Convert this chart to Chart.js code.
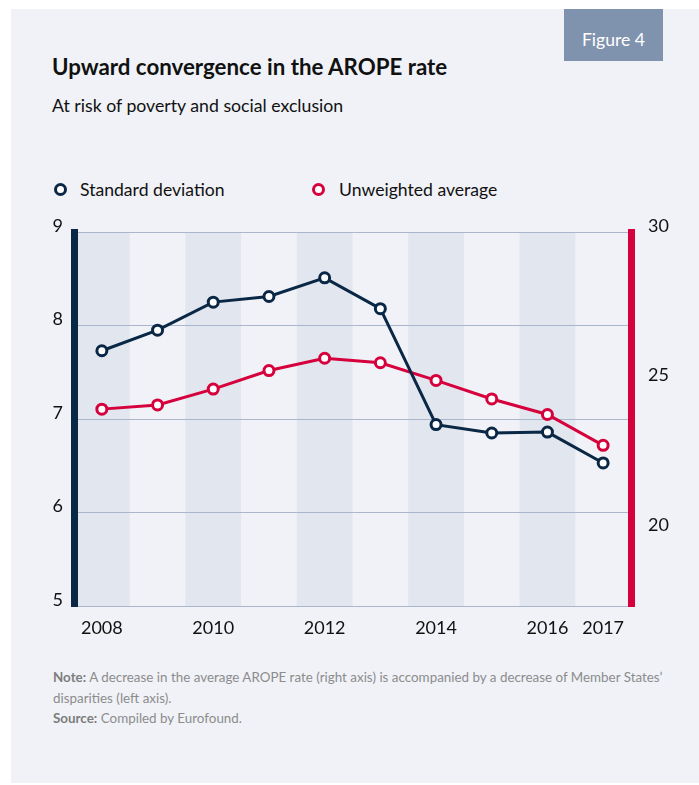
<!DOCTYPE html>
<html>
<head>
<meta charset="utf-8">
<script src="https://cdn.jsdelivr.net/npm/chart.js@4"></script>
<style>
  body { margin: 0; width: 699px; height: 785px; background: #fff; position: relative; font-family: Lato, sans-serif; overflow: hidden; }
  .card { position: absolute; left: 11px; top: 9px; width: 688px; height: 774px; background: #f0f2f7; }
  .fig { position: absolute; left: 564px; top: 9px; width: 99px; height: 52px; background: #8093ae; color: #fff; font-size: 17.6px; text-align: center; line-height: 22px; }
  .fig span { position: absolute; left: 0; right: 0; top: 20px; }
  .title { position: absolute; left: 52px; top: 54px; font-size: 22.3px; font-weight: bold; line-height: 26px; color: #111; }
  .sub { position: absolute; left: 52px; top: 95px; font-size: 17.7px; line-height: 22px; color: #111; }
  .legend { position: absolute; top: 179px; font-size: 17.6px; line-height: 22px; color: #111; }
  .legend i { position: absolute; top: 4px; width: 7px; height: 7px; border: 3px solid; border-radius: 50%; background: #fff; }
  .legend b { font-weight: normal; position: absolute; white-space: nowrap; }
  .note { position: absolute; left: 53px; top: 667px; font-size: 13.4px; line-height: 20.5px; color: #8c8c8c; white-space: nowrap; }
  .note strong { color: #7d7d7d; }
  canvas { position: absolute; left: 0; top: 200px; }
</style>
</head>
<body>
<div class="card"></div>
<div class="fig"><span>Figure 4</span></div>
<div class="title">Upward convergence in the AROPE rate</div>
<div class="sub">At risk of poverty and social exclusion</div>
<div class="legend" style="left:54px"><i style="border-color:#0a2746"></i><b style="left:26px">Standard deviation</b></div>
<div class="legend" style="left:312px"><i style="border-color:#d5003c"></i><b style="left:27px">Unweighted average</b></div>
<canvas id="chart" width="699" height="450"></canvas>
<div class="note"><strong>Note:</strong> A decrease in the average AROPE rate (right axis) is accompanied by a decrease of Member States’<br>disparities (left axis).<br><strong>Source:</strong> Compiled by Eurofound.</div>
<script>
const years = ['2008', '2009', '2010', '2011', '2012', '2013', '2014', '2015', '2016', '2017'];
const shownYears = ['2008', '2010', '2012', '2014', '2016', '2017'];
const shadedYears = ['2008', '2010', '2012', '2014', '2016'];
const stdDev = [7.73, 7.95, 8.25, 8.31, 8.51, 8.18, 6.94, 6.85, 6.86, 6.53];
const avgRate = [24.08, 24.22, 24.75, 25.37, 25.78, 25.63, 25.04, 24.42, 23.9, 22.87];
const leftTicks = [5, 6, 7, 8, 9];
const rightTicks = [20, 25, 30];

const navy = '#0a2746';
const red = '#d5003c';
const gridColor = '#a9b6cc';

Chart.defaults.font.family = 'Lato, sans-serif';
Chart.defaults.color = '#111';

// shaded column behind every other year
const stripes = {
  id: 'stripes',
  beforeDraw(chart) {
    const { ctx, chartArea, scales } = chart;
    const x = scales.x;
    const half = (x.getPixelForValue(1) - x.getPixelForValue(0)) / 2;
    ctx.save();
    ctx.fillStyle = '#e2e6ef';
    years.forEach((y, i) => {
      if (!shadedYears.includes(y)) return;
      const c = x.getPixelForValue(i);
      const l = Math.max(c - half, chartArea.left);
      const r = Math.min(c + half, chartArea.right);
      ctx.fillRect(l, chartArea.top, r - l, chartArea.bottom - chartArea.top);
    });
    ctx.restore();
  }
};

new Chart(document.getElementById('chart'), {
  type: 'line',
  data: {
    labels: years,
    datasets: [
      {
        label: 'Standard deviation',
        data: stdDev,
        yAxisID: 'y',
        borderColor: navy,
        backgroundColor: '#fff',
        borderWidth: 3,
        pointRadius: 5,
        pointBorderWidth: 3,
        pointBackgroundColor: '#fff',
        tension: 0
      },
      {
        label: 'Unweighted average',
        data: avgRate,
        yAxisID: 'y2',
        borderColor: red,
        backgroundColor: '#fff',
        borderWidth: 3,
        pointRadius: 5,
        pointBorderWidth: 3,
        pointBackgroundColor: '#fff',
        tension: 0
      }
    ]
  },
  options: {
    responsive: false,
    animation: false,
    layout: { padding: { top: 32 } },
    plugins: { legend: { display: false }, tooltip: { enabled: false } },
    scales: {
      x: {
        offset: true,
        grid: { display: false },
        border: { display: false },
        afterFit: s => { s.height = 44; },
        ticks: {
          autoSkip: false,
          maxRotation: 0,
          padding: 3,
          font: { size: 18 },
          callback: function(v) {
            const y = this.getLabelForValue(v);
            return shownYears.includes(y) ? y : '';
          }
        }
      },
      y: {
        position: 'left',
        min: 5,
        max: 9,
        afterFit: s => { s.width = 74; },
        afterBuildTicks: s => { s.ticks = leftTicks.map(v => ({ value: v })); },
        grid: { color: gridColor, lineWidth: 1, drawTicks: false },
        border: { color: navy, width: 7 },
        ticks: { padding: 11, labelOffset: -6, font: { size: 18 } }
      },
      y2: {
        position: 'right',
        min: 17.5,
        max: 30,
        afterFit: s => { s.width = 68; },
        afterBuildTicks: s => { s.ticks = rightTicks.map(v => ({ value: v })); },
        grid: { display: false, drawOnChartArea: false },
        border: { color: red, width: 7 },
        ticks: { padding: 9, labelOffset: -6, font: { size: 18 } }
      }
    }
  },
  plugins: [stripes]
});
</script>
</body>
</html>
